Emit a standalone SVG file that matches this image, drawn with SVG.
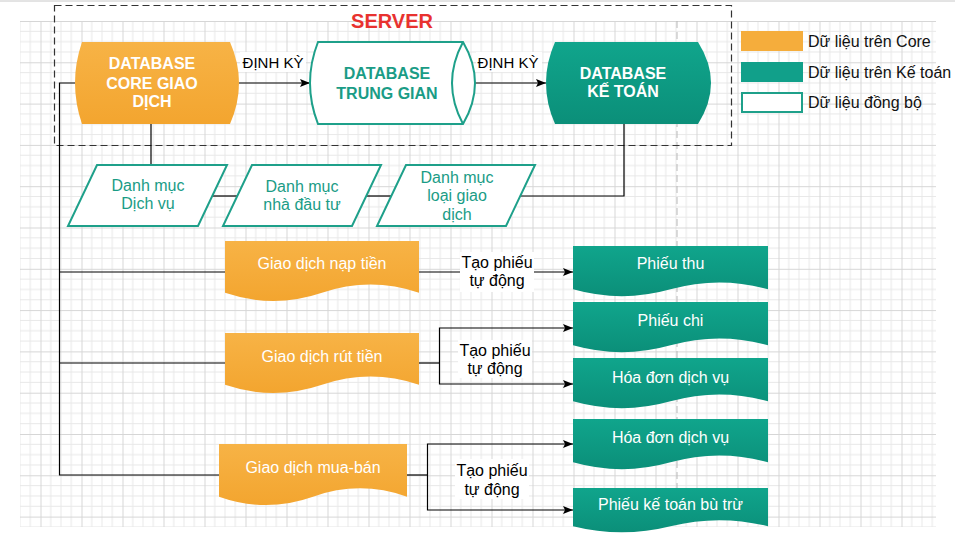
<svg xmlns="http://www.w3.org/2000/svg" width="955" height="548" viewBox="0 0 955 548">
<defs>
  <pattern id="grid" x="40.5" y="21" width="41" height="41.3" patternUnits="userSpaceOnUse">
    <path d="M10.25,0V41.3M20.5,0V41.3M30.75,0V41.3M0,10.33H41M0,20.66H41M0,31H41" stroke="#e8e8e8" stroke-width="1" fill="none"/>
    <path d="M0.5,0V41.3M0,0.5H41" stroke="#d6d6d6" stroke-width="1" fill="none"/>
  </pattern>
  <linearGradient id="gOr" x1="0" y1="0" x2="0" y2="1">
    <stop offset="0" stop-color="#f7b346"/>
    <stop offset="1" stop-color="#f3a52f"/>
  </linearGradient>
  <linearGradient id="gTe" x1="0" y1="0" x2="0" y2="1">
    <stop offset="0" stop-color="#10a58c"/>
    <stop offset="1" stop-color="#0b8f79"/>
  </linearGradient>
  <marker id="arr" viewBox="0 0 10 8" refX="10" refY="4" markerWidth="10" markerHeight="8" markerUnits="userSpaceOnUse" orient="auto">
    <path d="M0,0L10,4L0,8L2,4Z" fill="#000"/>
  </marker>
  <style>
    text{font-family:"Liberation Sans",Arial,sans-serif}
    .conn{fill:none;stroke:#000;stroke-width:1.2}
    .arrow{marker-end:url(#arr)}
    .db{font-size:16px;font-weight:bold;text-anchor:middle}
    .w{fill:#fff}
    .tl{fill:#1a9c86}
    .lbl{font-size:15px;fill:#000;text-anchor:middle}
    .lbl2{font-size:16px;fill:#000;text-anchor:middle}
    .doc{font-size:16px;fill:#fff;text-anchor:middle}
    .par{fill:#fff;stroke:#1ea08a;stroke-width:2}
    .ptx{font-size:16px;fill:#1a9c86;text-anchor:middle}
    .leg{font-size:16px;fill:#111}
    .bg{fill:#fff}
  </style>
</defs>
<rect width="955" height="548" fill="#fff"/>
<line x1="0" y1="1" x2="955" y2="1" stroke="#c8c8c8"/>
<rect x="20" y="21" width="916" height="506" fill="url(#grid)"/>
<line x1="677" y1="21" x2="677" y2="527" stroke="#b8b8b8" stroke-dasharray="7,4"/>

<g id="server">
  <rect x="54.5" y="5.5" width="677" height="140" fill="none" stroke="#333" stroke-width="1.2" stroke-dasharray="7,4"/>
  <text x="392" y="28" font-size="20" font-weight="bold" fill="#e8322f" text-anchor="middle">SERVER</text>
</g>

<g id="connectors">
  <path class="conn arrow" d="M239,83H310"/>
  <rect class="bg" x="240" y="52" width="66" height="20"/>
  <text class="lbl" x="273" y="67.5">ĐỊNH KỲ</text>
  <path class="conn arrow" d="M475,83H546"/>
  <rect class="bg" x="476" y="52" width="66" height="20"/>
  <text class="lbl" x="508" y="67.5">ĐỊNH KỲ</text>
  <path class="conn" d="M151,124V165"/>
  <path class="conn" d="M212,196H237"/>
  <path class="conn" d="M366,196H391"/>
  <path class="conn" d="M520,196H624V124"/>
  <path class="conn" d="M75,83H59.5V475H219"/>
  <path class="conn" d="M59.5,272H225"/>
  <path class="conn" d="M59.5,363H225"/>
  <path class="conn arrow" d="M419,272H573"/>
  <rect class="bg" x="460" y="252" width="74" height="40"/>
  <text class="lbl2" x="497" y="267.5">Tạo phiếu</text>
  <text class="lbl2" x="497" y="285.5">tự động</text>
  <path class="conn" d="M419,363H439.5"/>
  <path class="conn arrow" d="M439.5,363V328H573"/>
  <path class="conn arrow" d="M439.5,363V384H573"/>
  <rect class="bg" x="458" y="340" width="74" height="38"/>
  <text class="lbl2" x="495" y="355.5">Tạo phiếu</text>
  <text class="lbl2" x="495" y="373.5">tự động</text>
  <path class="conn" d="M407,475H427.5"/>
  <path class="conn arrow" d="M427.5,475V444H573"/>
  <path class="conn arrow" d="M427.5,475V510H573"/>
  <rect class="bg" x="455" y="459" width="74" height="40"/>
  <text class="lbl2" x="492" y="475.5">Tạo phiếu</text>
  <text class="lbl2" x="492" y="494.5">tự động</text>
</g>

<g id="db-core">
  <path d="M82,42H230Q248,83 230,124H82Q68,83 82,42Z" fill="url(#gOr)"/>
  <text class="db w" x="152" y="69">DATABASE</text>
  <text class="db w" x="152" y="89">CORE GIAO</text>
  <text class="db w" x="152" y="107">DỊCH</text>
</g>

<g id="db-trung-gian">
  <path d="M318,42H463Q487,83 463,124H318Q302,83 318,42Z" fill="#fff" stroke="#1ea08a" stroke-width="2"/>
  <path d="M463,42Q441,83 463,124" fill="none" stroke="#1ea08a" stroke-width="2"/>
  <text class="db tl" x="387" y="79">DATABASE</text>
  <text class="db tl" x="387" y="99">TRUNG GIAN</text>
</g>

<g id="db-ke-toan">
  <path d="M555,42H698Q724,83 698,124H555Q537,83 555,42Z" fill="url(#gTe)"/>
  <text class="db w" x="623" y="79">DATABASE</text>
  <text class="db w" x="623" y="97">KẾ TOÁN</text>
</g>

<g id="dm-dich-vu">
  <path class="par" d="M97,165H227L198,226H68Z"/>
  <text class="ptx" x="148" y="190.5">Danh mục</text>
  <text class="ptx" x="148" y="208.5">Dịch vụ</text>
</g>
<g id="dm-nha-dau-tu">
  <path class="par" d="M252,165H381L352,226H223Z"/>
  <text class="ptx" x="302" y="191.5">Danh mục</text>
  <text class="ptx" x="302" y="209.5">nhà đầu tư</text>
</g>
<g id="dm-loai-giao-dich">
  <path class="par" d="M406,165H535L506,226H377Z"/>
  <text class="ptx" x="457" y="182.5">Danh mục</text>
  <text class="ptx" x="457" y="201">loại giao</text>
  <text class="ptx" x="457" y="219.5">dịch</text>
</g>

<g id="gd-nap-tien">
  <path d="M225,241H419V292.85Q370.5,276.38 322,292.85Q273.5,309.32 225,292.85Z" fill="url(#gOr)"/>
  <text class="doc" x="322" y="269">Giao dịch nạp tiền</text>
</g>
<g id="gd-rut-tien">
  <path d="M225,333H419V384.85Q370.5,368.38 322,384.85Q273.5,401.32 225,384.85Z" fill="url(#gOr)"/>
  <text class="doc" x="322" y="362">Giao dịch rút tiền</text>
</g>
<g id="gd-mua-ban">
  <path d="M219,444H407V496.7Q360,479.96 313,496.7Q266,513.44 219,496.7Z" fill="url(#gOr)"/>
  <text class="doc" x="313" y="473">Giao dịch mua-bán</text>
</g>

<g id="phieu-thu">
  <path d="M573,246H768V289.35Q719.25,275.58 670.5,289.35Q621.75,303.12 573,289.35Z" fill="url(#gTe)"/>
  <text class="doc" x="670.5" y="269">Phiếu thu</text>
</g>
<g id="phieu-chi">
  <path d="M573,302H768V345.35Q719.25,331.58 670.5,345.35Q621.75,359.12 573,345.35Z" fill="url(#gTe)"/>
  <text class="doc" x="670.5" y="326">Phiếu chi</text>
</g>
<g id="hoa-don-1">
  <path d="M573,358H768V401.35Q719.25,387.58 670.5,401.35Q621.75,415.12 573,401.35Z" fill="url(#gTe)"/>
  <text class="doc" x="670.5" y="383">Hóa đơn dịch vụ</text>
</g>
<g id="hoa-don-2">
  <path d="M573,419H768V462.35Q719.25,448.58 670.5,462.35Q621.75,476.12 573,462.35Z" fill="url(#gTe)"/>
  <text class="doc" x="670.5" y="443">Hóa đơn dịch vụ</text>
</g>
<g id="phieu-ke-toan">
  <path d="M573,488H768V526.25Q719.25,514.1 670.5,526.25Q621.75,538.4 573,526.25Z" fill="url(#gTe)"/>
  <text class="doc" x="670.5" y="510">Phiếu kế toán bù trừ</text>
</g>

<g id="legend">
  <rect x="741" y="31" width="62" height="20" fill="#f5ad3c"/>
  <text class="leg" x="808" y="46.5">Dữ liệu trên Core</text>
  <rect x="741" y="62" width="62" height="20" fill="#11a08a"/>
  <text class="leg" x="808" y="77.5">Dữ liệu trên Kế toán</text>
  <rect x="742" y="93" width="60" height="19" fill="#fff" stroke="#1ea08a" stroke-width="2"/>
  <text class="leg" x="808" y="108">Dữ liệu đồng bộ</text>
</g>
</svg>
